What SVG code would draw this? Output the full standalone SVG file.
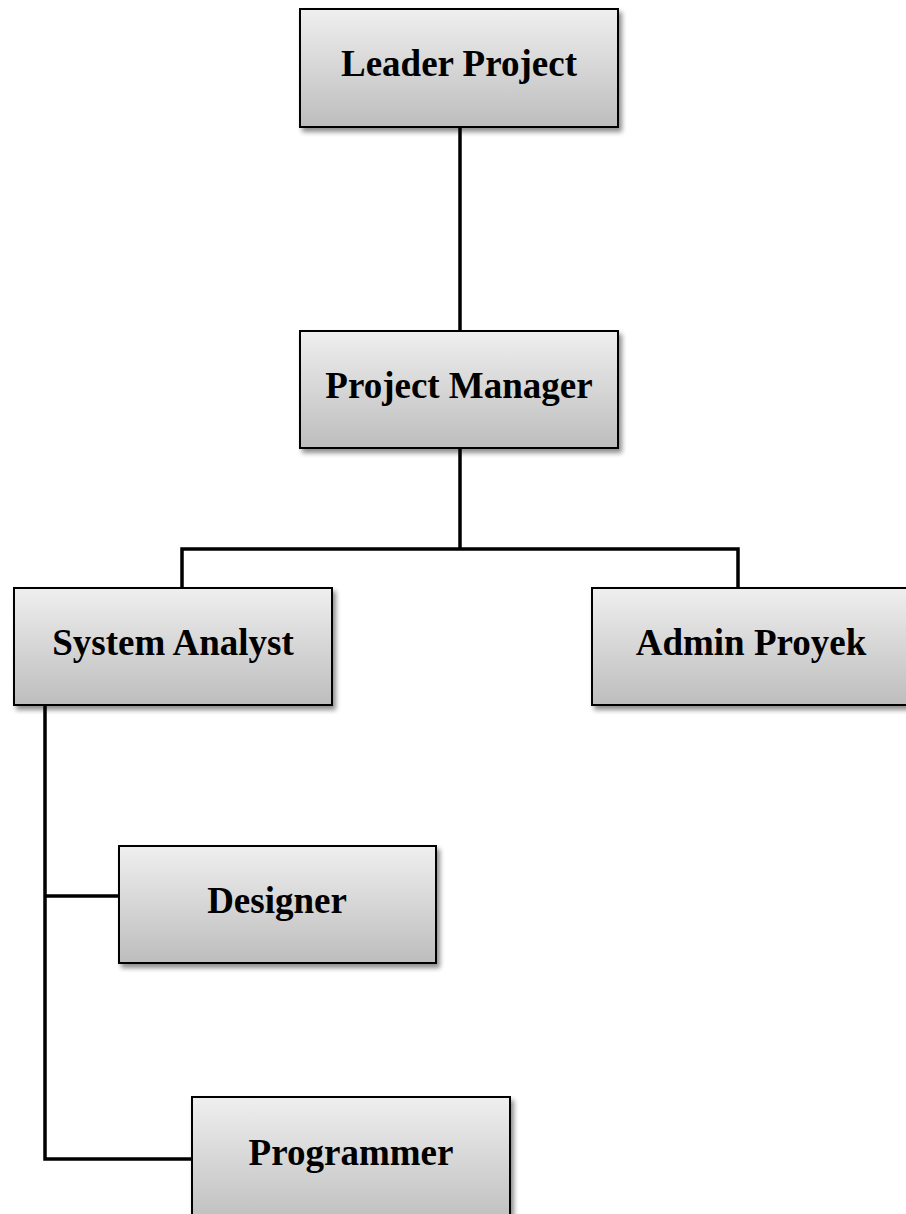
<svg xmlns="http://www.w3.org/2000/svg" width="906" height="1214" viewBox="0 0 906 1214">
<defs>
<linearGradient id="g" x1="0" y1="0" x2="0" y2="1">
<stop offset="0" stop-color="#efefef"/>
<stop offset="1" stop-color="#bdbdbd"/>
</linearGradient>
<filter id="sh" x="-10%" y="-10%" width="125%" height="130%">
<feGaussianBlur in="SourceAlpha" stdDeviation="2.5"/>
<feOffset dx="3" dy="4" result="b"/>
<feComponentTransfer><feFuncA type="linear" slope="0.45"/></feComponentTransfer>
<feMerge><feMergeNode/><feMergeNode in="SourceGraphic"/></feMerge>
</filter>
</defs>
<style>
.box{fill:url(#g);stroke:#000;stroke-width:2;filter:url(#sh)}
.lbl{font-family:"Liberation Serif","Times New Roman",serif;font-weight:bold;font-size:37px;fill:#000;text-anchor:middle}
.c{fill:none;stroke:#000;stroke-width:3.5;stroke-linejoin:miter}
</style>
<rect width="906" height="1214" fill="#fff"/>
<g id="connectors">
<line class="c" x1="460" y1="127" x2="460" y2="331"/>
<polyline class="c" points="182,588 182,549 738,549 738,588"/>
<line class="c" x1="460" y1="448" x2="460" y2="549"/>
<polyline class="c" points="45,705 45,1159 192,1159"/>
<line class="c" x1="45" y1="896" x2="119" y2="896"/>
</g>
<g id="leader-project">
<rect class="box" x="300" y="9" width="318" height="118"/>
<text class="lbl" x="459" y="76">Leader Project</text>
</g>
<g id="project-manager">
<rect class="box" x="300" y="331" width="318" height="117"/>
<text class="lbl" x="459" y="398">Project Manager</text>
</g>
<g id="system-analyst">
<rect class="box" x="14" y="588" width="318" height="117"/>
<text class="lbl" x="173" y="655">System Analyst</text>
</g>
<g id="admin-proyek">
<rect class="box" x="592" y="588" width="318" height="117"/>
<text class="lbl" x="751" y="655">Admin Proyek</text>
</g>
<g id="designer">
<rect class="box" x="119" y="846" width="317" height="117"/>
<text class="lbl" x="277" y="913">Designer</text>
</g>
<g id="programmer">
<rect class="box" x="192" y="1097" width="318" height="130"/>
<text class="lbl" x="351" y="1165">Programmer</text>
</g>
</svg>
